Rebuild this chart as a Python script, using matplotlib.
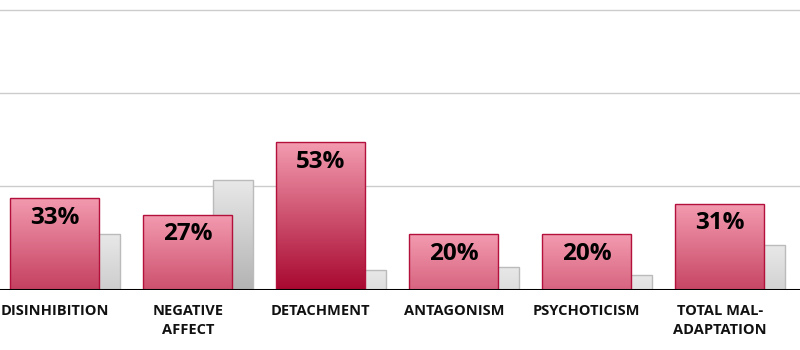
import numpy as np
import matplotlib.pyplot as plt
from matplotlib.colors import LinearSegmentedColormap

plt.rcParams['font.family'] = ['Open Sans', 'DejaVu Sans']

# data
categories = ["DISINHIBITION", "NEGATIVE\nAFFECT", "DETACHMENT",
              "ANTAGONISM", "PSYCHOTICISM", "TOTAL MAL-\nADAPTATION"]
main_values = [33, 27, 53, 20, 20, 31]
compare_values = [20, 39.4, 7.2, 8.2, 5.4, 16.1]
grid_levels = [37.3, 70.6, 100.3]

pink_cmap = LinearSegmentedColormap.from_list("pink", ["#f39bb0", "#a8082f"])
grey_cmap = LinearSegmentedColormap.from_list("grey", ["#e8e8e8", "#b3b3b3"])

fig = plt.figure(figsize=(8, 3.5), dpi=100)
ax = fig.add_axes([0, 0.1706, 1, 0.8294])

x = np.arange(len(categories))
pink_w = 0.669
grey_w = 0.305
grey_off = 0.34

for g in grid_levels:
    ax.axhline(g, color="#cccccc", lw=1, zorder=0)


def gradient_bars(xpos, vals, width, cmap, span, edge, z):
    bars = ax.bar(xpos, vals, width, facecolor="none", edgecolor=edge,
                  linewidth=1, zorder=z + 1)
    for b, v in zip(bars, vals):
        x0 = b.get_x()
        grad = np.linspace(v, 0, 200).reshape(-1, 1)
        grad = (v - grad) / span
        im = ax.imshow(grad, cmap=cmap, vmin=0, vmax=1, aspect="auto",
                       extent=[x0, x0 + width, 0, v], origin="upper",
                       zorder=z, interpolation="bilinear")
        im.set_clip_path(b)
    return bars


gradient_bars(x + grey_off, compare_values, grey_w, grey_cmap, 39.4, "#bbbbbb", 2)
pink_bars = gradient_bars(x, main_values, pink_w, pink_cmap, 53, "#b3103c", 4)

for xi, v in zip(x, main_values):
    ax.text(xi, v - 2.7, f"{v}%", ha="center", va="top", fontsize=17.5,
            fontweight="bold", color="black", zorder=10)

ax.axhline(0, color="black", lw=2.2, zorder=8)

ax.set_xlim(-0.412, 5.603)
ax.set_ylim(0, 104)
ax.set_xticks(x)
ax.set_xticklabels(categories, fontsize=10.5, fontweight="bold", color="#111111",
                   linespacing=1.4)
ax.tick_params(axis="x", length=0, pad=10)
ax.set_yticks([])
for s in ax.spines.values():
    s.set_visible(False)

fig.savefig("out.png", dpi=100)
